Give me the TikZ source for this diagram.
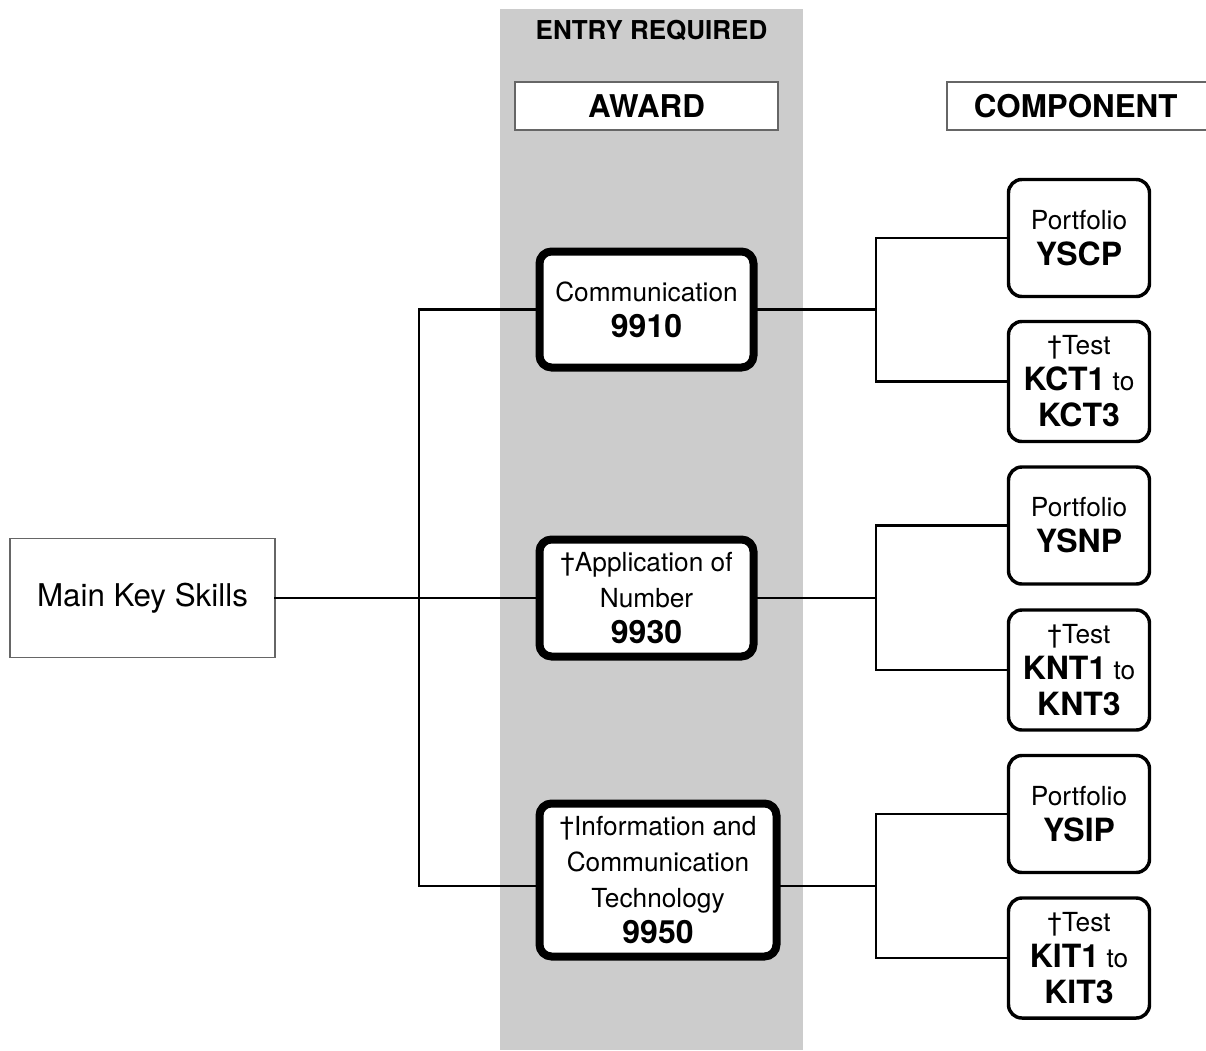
\documentclass[tikz,border=0pt]{standalone}
\usepackage{fontspec}
\setmainfont{TeX Gyre Heros}
\definecolor{band}{HTML}{CCCCCC}
\definecolor{thinbox}{HTML}{666666}
\tikzset{
  conn/.style={line width=1.9pt, line cap=rect},
  plainbox/.style={draw=thinbox, line width=0.9pt, fill=white, inner sep=0pt},
  awardbox/.style={draw, line width=6pt, rounded corners=9pt, fill=white, inner sep=0pt, align=center,
     font=\fontsize{19.7}{27}\selectfont, minimum width=160.5pt},
  compbox/.style={draw, line width=2.6pt, rounded corners=10pt, fill=white, inner sep=0pt, align=center,
     font=\fontsize{19.7}{27}\selectfont, minimum width=105.75pt},
}
\newcommand{\bnum}[1]{{\fontsize{24}{27}\selectfont\bfseries #1}}
\begin{document}
\begin{tikzpicture}[x=0.75pt,y=-0.75pt]
\useasboundingbox (0,0) rectangle (1206,1050);
\clip (0,0) rectangle (1206,1050);
\fill[band] (500,9) rectangle (803,1050);
\node[font=\fontsize{19.5}{22}\selectfont\bfseries] (entry) at (651.5,30) {ENTRY REQUIRED};
\node[plainbox, minimum width=197.25pt, minimum height=36pt, font=\fontsize{23.5}{27}\selectfont\bfseries] (award) at (646.5,106) {AWARD};
\node[plainbox, minimum width=201pt, minimum height=36pt, font=\fontsize{23.5}{27}\selectfont\bfseries] (comphead) at (1081,106) {\hspace*{-8pt}COMPONENT};
\node[plainbox, minimum width=198.75pt, minimum height=89.25pt, font=\fontsize{23.5}{27}\selectfont] (main) at (142.5,598) {Main Key Skills};

\node[awardbox, minimum height=87pt] (comm) at (646.5,309.5) {Communication\\\bnum{9910}};
\node[awardbox, minimum height=87.75pt] (app) at (646.5,598) {†Application of\\Number\\\bnum{9930}};
\node[awardbox, minimum width=177.75pt, minimum height=114.75pt] (ict) at (658,880) {†Information and\\Communication\\Technology\\\bnum{9950}};

\node[compbox, minimum height=87.75pt] (yscp) at (1079,238) {Portfolio\\\bnum{YSCP}};
\node[compbox, minimum height=90pt] (kct) at (1079,381.5) {†Test\\\bnum{KCT1} to\\\bnum{KCT3}};
\node[compbox, minimum height=87.75pt] (ysnp) at (1079,525.5) {Portfolio\\\bnum{YSNP}};
\node[compbox, minimum height=90pt] (knt) at (1079,670) {†Test\\\bnum{KNT1} to\\\bnum{KNT3}};
\node[compbox, minimum height=87.75pt] (ysip) at (1079,814) {Portfolio\\\bnum{YSIP}};
\node[compbox, minimum height=90pt] (kit) at (1079,958) {†Test\\\bnum{KIT1} to\\\bnum{KIT3}};

% left junction
\coordinate (jlt) at (419,309.5);
\coordinate (jlb) at (419,886);
\draw[conn] (main.east) -- (app.west);
\draw[conn] (comm.west) -- (jlt) -- (jlb) -- (ict.west |- jlb);

% right junctions
\coordinate (jr1) at (876,309.5);
\coordinate (jr2) at (876,598);
\coordinate (jr3) at (876,886);
\draw[conn] (comm.east) -- (jr1);
\draw[conn] (yscp.west) -- (yscp.west -| jr1) -- (kct.west -| jr1) -- (kct.west);
\draw[conn] (app.east) -- (jr2);
\draw[conn] (ysnp.west) -- (ysnp.west -| jr2) -- (knt.west -| jr2) -- (knt.west);
\draw[conn] (ict.east |- jr3) -- (jr3);
\draw[conn] (ysip.west) -- (ysip.west -| jr3) -- (kit.west -| jr3) -- (kit.west);
\end{tikzpicture}
\end{document}
